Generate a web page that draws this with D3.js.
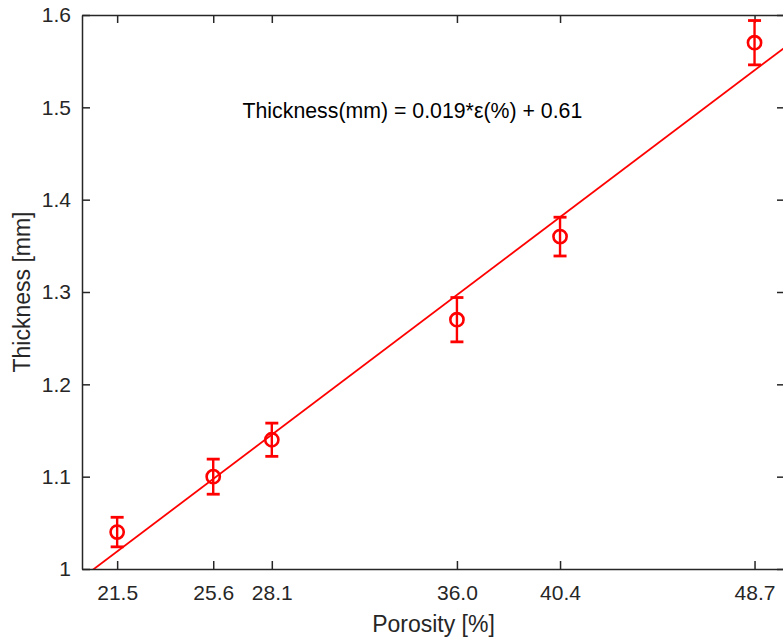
<!DOCTYPE html>
<html>
<head>
<meta charset="utf-8">
<script src="https://cdn.jsdelivr.net/npm/d3@7"></script>
<style>
  body { margin: 0; background: #fff; }
  svg { display: block; font-family: "Liberation Sans", Arial, sans-serif; }
</style>
</head>
<body>
<div id="chart"></div>
<script>
// measured porosity vs thickness
var porosity = [21.5, 25.6, 28.1, 36.0, 40.4, 48.7];
var thickness = [1.04, 1.10, 1.14, 1.27, 1.36, 1.57];
var errBar = [0.016, 0.019, 0.018, 0.024, 0.021, 0.024];
var xTicks = ["21.5", "25.6", "28.1", "36.0", "40.4", "48.7"];
var yTicks = [1, 1.1, 1.2, 1.3, 1.4, 1.5, 1.6];
var fitLabel = "Thickness(mm) = 0.019*\u03b5(%) + 0.61";

var width = 783,
    height = 639;
var margin = {top: 15, right: -2, bottom: 70, left: 82};
var w = width - margin.left - margin.right,
    h = height - margin.top - margin.bottom;

var axisColor = "#262626";
var red = "#ff0000";

var svg = d3.select("#chart")
    .append("svg")
    .attr("width", width)
    .attr("height", height);

var g = svg.append("g")
    .attr("transform", "translate(" + margin.left + "," + margin.top + ")");

var x = d3.scaleLinear().domain([20, 50]).range([0, w]);
var y = d3.scaleLinear().domain([1, 1.6]).range([h, 0]);

// least squares fit line
var mx = d3.mean(porosity), my = d3.mean(thickness);
var sxy = d3.sum(porosity, (p, i) => (p - mx) * (thickness[i] - my));
var sxx = d3.sum(porosity, p => (p - mx) * (p - mx));
var slope = sxy / sxx,
    intercept = my - slope * mx;

g.append("clipPath").attr("id", "clip")
    .append("rect").attr("width", w).attr("height", h);

g.append("line")
    .attr("clip-path", "url(#clip)")
    .attr("x1", x(20)).attr("y1", y(intercept + slope * 20))
    .attr("x2", x(50)).attr("y2", y(intercept + slope * 50))
    .attr("stroke", red)
    .attr("stroke-width", 1.8);

// axes (ticks inward, box)
var tickFont = "21px";
var xAxis = g.append("g")
    .attr("transform", "translate(0," + h + ")")
    .call(d3.axisBottom(x).tickValues(porosity).tickFormat((d, i) => xTicks[i])
        .tickSizeInner(-8).tickSizeOuter(0).tickPadding(16));
var xTop = g.append("g")
    .call(d3.axisTop(x).tickValues(porosity).tickFormat("")
        .tickSizeInner(-8).tickSizeOuter(0));
var yAxis = g.append("g")
    .call(d3.axisLeft(y).tickValues(yTicks).tickFormat(d3.format("~g"))
        .tickSizeInner(-8).tickSizeOuter(0).tickPadding(11));
var yRight = g.append("g")
    .attr("transform", "translate(" + w + ",0)")
    .call(d3.axisRight(y).tickValues(yTicks).tickFormat("")
        .tickSizeInner(-8).tickSizeOuter(0));

[xAxis, xTop, yAxis, yRight].forEach(a => {
    a.select(".domain").attr("stroke", axisColor).attr("stroke-width", 1.5);
    a.selectAll(".tick line").attr("stroke", axisColor).attr("stroke-width", 1.5);
    a.selectAll(".tick text")
        .attr("fill", axisColor)
        .style("font-size", tickFont)
        .style("font-family", "Liberation Sans, Arial, sans-serif");
});

// error bars
var eb = g.selectAll(".eb")
    .data(porosity.map((p, i) => ({x: p, y: thickness[i], e: errBar[i]})))
    .enter()
    .append("g")
    .attr("class", "eb");

eb.append("line")
    .attr("x1", d => x(d.x)).attr("x2", d => x(d.x))
    .attr("y1", d => y(d.y - d.e)).attr("y2", d => y(d.y + d.e))
    .attr("stroke", red).attr("stroke-width", 2.4);
eb.append("line")
    .attr("x1", d => x(d.x) - 6.5).attr("x2", d => x(d.x) + 6.5)
    .attr("y1", d => y(d.y + d.e)).attr("y2", d => y(d.y + d.e))
    .attr("stroke", red).attr("stroke-width", 2.8);
eb.append("line")
    .attr("x1", d => x(d.x) - 6.5).attr("x2", d => x(d.x) + 6.5)
    .attr("y1", d => y(d.y - d.e)).attr("y2", d => y(d.y - d.e))
    .attr("stroke", red).attr("stroke-width", 2.8);
eb.append("circle")
    .attr("cx", d => x(d.x)).attr("cy", d => y(d.y))
    .attr("r", 6.6)
    .attr("fill", "none")
    .attr("stroke", red).attr("stroke-width", 2.6);

// fit annotation
g.append("text")
    .attr("x", x(26.85))
    .attr("y", y(1.488))
    .attr("fill", "#000")
    .style("font-size", "21.3px")
    .text(fitLabel);

// axis labels
svg.append("text")
    .attr("x", margin.left + w / 2)
    .attr("y", 632)
    .attr("text-anchor", "middle")
    .attr("fill", axisColor)
    .style("font-size", "23px")
    .text("Porosity [%]");

svg.append("text")
    .attr("transform", "translate(30," + (margin.top + h / 2) + ") rotate(-90)")
    .attr("text-anchor", "middle")
    .attr("fill", axisColor)
    .style("font-size", "23px")
    .text("Thickness [mm]");
</script>
</body>
</html>
